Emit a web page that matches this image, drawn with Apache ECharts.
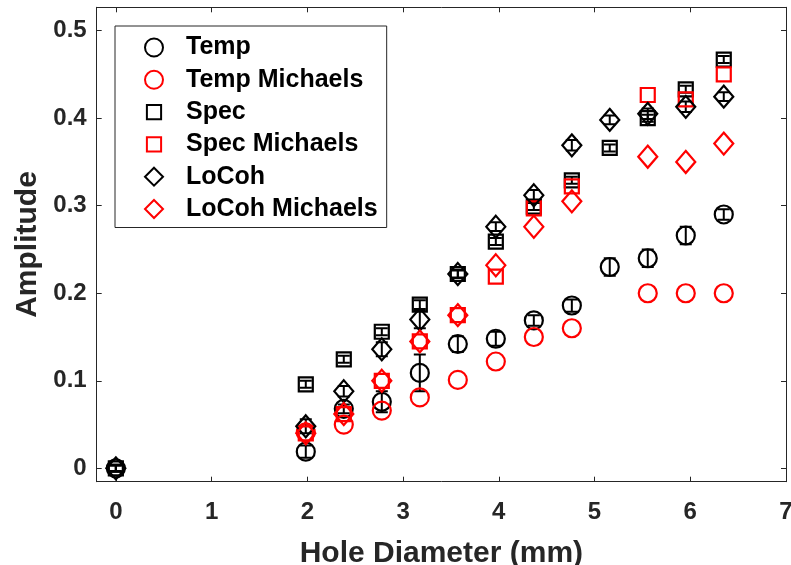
<!DOCTYPE html>
<html>
<head>
<meta charset="utf-8">
<script src="https://cdn.jsdelivr.net/npm/echarts@6/dist/echarts.min.js"></script>
<style>
html,body{margin:0;padding:0;background:#fff;}
#chart{width:791px;height:565px;}
</style>
</head>
<body>
<div id="chart"></div>
<script>
// Hole diameters (mm)
const diam = [0, 1.984, 2.381, 2.778, 3.175, 3.572, 3.969, 4.366, 4.763, 5.159, 5.556, 5.953, 6.350];
const diamMichaels = [1.984, 2.381, 2.778, 3.175, 3.572, 3.969, 4.366, 4.763, 5.556, 5.953, 6.350];

const temp    = [0, 0.019, 0.068, 0.076, 0.109, 0.142, 0.148, 0.169, 0.186, 0.230, 0.240, 0.266, 0.290];
const tempErr = [0.004, 0.007, 0.005, 0.012, 0.021, 0.009, 0.008, 0.006, 0.007, 0.010, 0.010, 0.010, 0.006];
const spec    = [0, 0.096, 0.1245, 0.156, 0.187, 0.222, 0.259, 0.299, 0.329, 0.366, 0.400, 0.433, 0.467];
const specErr = [0.003, 0.004, 0.004, 0.004, 0.005, 0.004, 0.004, 0.004, 0.004, 0.004, 0.004, 0.004, 0.004];
const locoh   = [0, 0.048, 0.088, 0.136, 0.170, 0.222, 0.276, 0.312, 0.369, 0.398, 0.405, 0.413, 0.4246];
const locohErr= [0.004, 0.008, 0.006, 0.008, 0.010, 0.005, 0.005, 0.006, 0.006, 0.005, 0.006, 0.006, 0.005];

const tempMichaels  = [0.041, 0.050, 0.066, 0.081, 0.101, 0.122, 0.150, 0.160, 0.200, 0.200, 0.200];
const specMichaels  = [0.040, 0.062, 0.100, 0.145, 0.175, 0.219, 0.297, 0.322, 0.4265, 0.4216, 0.450];
const locohMichaels = [0.040, 0.062, 0.100, 0.145, 0.175, 0.232, 0.276, 0.305, 0.356, 0.350, 0.371];

const xTicks = [0, 1, 2, 3, 4, 5, 6, 7];
const yTicks = [0, 0.1, 0.2, 0.3, 0.4, 0.5];

const FONT = 'Liberation Sans';
const AX = '#262626';
const SQUARE_ICON = 'path://M-2,-2M17,17M0,0L15,0L15,15L0,15Z';

function pts(xs, ys) { return xs.map((x, i) => [x, ys[i]]); }
function errPts(xs, ys, es) { return xs.map((x, i) => [x, ys[i], es[i]]); }

function errSeries(name, data) {
  return {
    type: 'custom', name: name, data: data, encode: {x: 0, y: 1}, silent: true, clip: true,
    renderItem: function (params, api) {
      const x = api.value(0), y = api.value(1), e = api.value(2);
      const t = api.coord([x, y + e]), b = api.coord([x, y - e]);
      const hw = 6;
      const st = {stroke: '#000', lineWidth: 2, fill: null};
      return {type: 'group', children: [
        {type: 'line', shape: {x1: t[0], y1: t[1], x2: b[0], y2: b[1]}, style: st},
        {type: 'line', shape: {x1: t[0] - hw, y1: t[1], x2: t[0] + hw, y2: t[1]}, style: st},
        {type: 'line', shape: {x1: b[0] - hw, y1: b[1], x2: b[0] + hw, y2: b[1]}, style: st}
      ]};
    }
  };
}

function scat(name, data, symbol, size, color) {
  return {
    type: 'scatter', name: name, data: data, symbol: symbol, symbolSize: size,
    itemStyle: {color: 'rgba(0,0,0,0)', borderColor: color, borderWidth: 2.2, opacity: 1},
    emphasis: {disabled: true}
  };
}

const legendItem = (name, icon, color) => ({
  name: name, icon: icon,
  itemStyle: {color: 'rgba(0,0,0,0)', borderColor: color, borderWidth: 2}
});

const chart = echarts.init(document.getElementById('chart'), null, {renderer: 'canvas'});
chart.setOption({
  animation: false,
  backgroundColor: '#fff',
  grid: {left: 96.7, right: 5, top: 7.3, bottom: 83.3, containLabel: false, outerBoundsMode: 'none'},
  legend: {
    orient: 'vertical', left: 115, top: 26,
    padding: [9, 9, 6, 29], itemGap: 7.3, itemWidth: 18, itemHeight: 18,
    backgroundColor: '#fff', borderColor: AX, borderWidth: 1,
    selectedMode: false,
    textStyle: {fontFamily: FONT, fontWeight: 'bold', fontSize: 25, lineHeight: 25, color: '#000', padding: [0, 0, 0, 18]},
    data: [
      legendItem('Temp', 'circle', '#000'),
      legendItem('Temp Michaels', 'circle', '#ff0000'),
      legendItem('Spec', SQUARE_ICON, '#000'),
      legendItem('Spec Michaels', SQUARE_ICON, '#ff0000'),
      legendItem('LoCoh', 'diamond', '#000'),
      legendItem('LoCoh Michaels', 'diamond', '#ff0000')
    ]
  },
  xAxis: [{
    type: 'value', min: -0.2, max: 7, position: 'bottom',
    name: 'Hole Diameter (mm)', nameLocation: 'middle', nameGap: 57,
    nameTextStyle: {fontFamily: FONT, fontWeight: 'bold', fontSize: 30, color: AX},
    axisLine: {show: true, onZero: false, lineStyle: {color: AX, width: 1}},
    axisTick: {show: true, inside: true, length: 5, customValues: xTicks, lineStyle: {color: AX}},
    axisLabel: {show: true, margin: 19, customValues: xTicks, fontFamily: FONT, fontWeight: 'bold', fontSize: 24, color: AX},
    splitLine: {show: false}
  }, {
    type: 'value', min: -0.2, max: 7, position: 'top',
    axisLine: {show: true, onZero: false, lineStyle: {color: AX, width: 1}},
    axisTick: {show: true, inside: true, length: 5, customValues: xTicks, lineStyle: {color: AX}},
    axisLabel: {show: false}, splitLine: {show: false}
  }],
  yAxis: [{
    type: 'value', min: -0.0153, max: 0.5267, position: 'left',
    name: 'Amplitude', nameLocation: 'middle', nameGap: 50,
    nameTextStyle: {fontFamily: FONT, fontWeight: 'bold', fontSize: 30, color: AX},
    axisLine: {show: true, onZero: false, lineStyle: {color: AX, width: 1}},
    axisTick: {show: true, inside: true, length: 5, customValues: yTicks, lineStyle: {color: AX}},
    axisLabel: {show: true, margin: 10, customValues: yTicks, fontFamily: FONT, fontWeight: 'bold', fontSize: 24, color: AX,
      formatter: v => String(Math.round(v * 10) / 10)},
    splitLine: {show: false}
  }, {
    type: 'value', min: -0.0153, max: 0.5267, position: 'right',
    axisLine: {show: true, onZero: false, lineStyle: {color: AX, width: 1}},
    axisTick: {show: true, inside: true, length: 5, customValues: yTicks, lineStyle: {color: AX}},
    axisLabel: {show: false}, splitLine: {show: false}
  }],
  series: [
    errSeries('Temp err', errPts(diam, temp, tempErr)),
    scat('Temp', pts(diam, temp), 'circle', [18, 18], '#000'),
    scat('Temp Michaels', pts(diamMichaels, tempMichaels), 'circle', [18, 18], '#ff0000'),
    errSeries('Spec err', errPts(diam, spec, specErr)),
    scat('Spec', pts(diam, spec), 'rect', [14, 14], '#000'),
    scat('Spec Michaels', pts(diamMichaels, specMichaels), 'rect', [14, 14], '#ff0000'),
    errSeries('LoCoh err', errPts(diam, locoh, locohErr)),
    scat('LoCoh', pts(diam, locoh), 'diamond', [19, 22], '#000'),
    scat('LoCoh Michaels', pts(diamMichaels, locohMichaels), 'diamond', [19, 22], '#ff0000')
  ]
});
</script>
</body>
</html>
